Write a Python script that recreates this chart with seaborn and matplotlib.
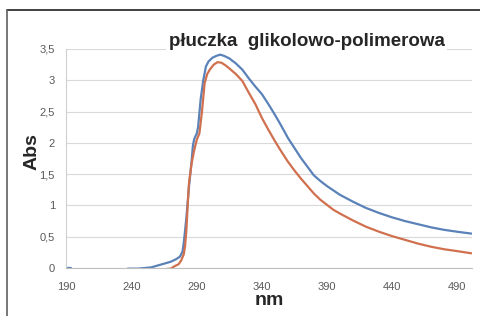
import matplotlib
matplotlib.use("Agg")
import matplotlib.pyplot as plt
from matplotlib.lines import Line2D
import seaborn as sns
import numpy as np
import pandas as pd

# absorbance readings (nm, Abs)
blue_nm = [190, 193,
           237, 245, 250, 255, 260, 265, 270, 274, 277, 279, 280, 282, 284, 286, 287, 288,
           290, 291, 293, 295, 297, 299, 302, 305, 308, 311, 315, 320, 325, 330, 335, 340,
           345, 350, 355, 360, 365, 370, 375, 380, 385, 390, 400, 410, 420, 430, 440, 450,
           460, 470, 480, 490, 501]
blue_abs = [0.0, 0.0,
            -0.01, -0.01, 0.0, 0.01, 0.04, 0.07, 0.10, 0.14, 0.18, 0.26, 0.4, 0.8, 1.3, 1.7, 1.95, 2.06,
            2.15, 2.25, 2.7, 3.0, 3.22, 3.30, 3.36, 3.39, 3.41, 3.39, 3.35, 3.27, 3.17, 3.03, 2.90, 2.78,
            2.62, 2.45, 2.27, 2.08, 1.92, 1.76, 1.62, 1.48, 1.39, 1.31, 1.17, 1.06, 0.96, 0.88, 0.81, 0.75,
            0.70, 0.65, 0.61, 0.58, 0.55]
blue_seg = [0, 0] + [1] * 53

orange_nm = [265, 270, 273, 276, 278, 280, 281, 282, 283, 284, 286, 288, 290, 292, 294, 296, 298,
             300, 303, 306, 309, 312, 315, 320, 325, 330, 335, 340, 345, 350, 355, 360, 365, 370,
             375, 380, 385, 390, 395, 400, 410, 420, 430, 440, 450, 460, 470, 480, 490, 501]
orange_abs = [-0.02, -0.01, 0.03, 0.06, 0.12, 0.22, 0.35, 0.6, 1.0, 1.35, 1.67, 1.88, 2.05, 2.15, 2.5, 2.95, 3.1,
              3.17, 3.25, 3.29, 3.28, 3.24, 3.19, 3.10, 2.99, 2.80, 2.62, 2.40, 2.21, 2.03, 1.86, 1.70, 1.56, 1.43,
              1.31, 1.19, 1.09, 1.01, 0.93, 0.87, 0.76, 0.66, 0.58, 0.51, 0.45, 0.39, 0.34, 0.30, 0.27, 0.235]

x_ticks = [190, 240, 290, 340, 390, 440, 490]
y_ticks = [0, 0.5, 1, 1.5, 2, 2.5, 3, 3.5]
y_labels = ["0", "0,5", "1", "1,5", "2", "2,5", "3", "3,5"]

df = pd.concat([
    pd.DataFrame({"nm": blue_nm, "Abs": blue_abs, "seria": "A", "seg": blue_seg}),
    pd.DataFrame({"nm": orange_nm, "Abs": orange_abs, "seria": "B", "seg": 2}),
], ignore_index=True)

sns.set_style("white")
plt.rcParams["font.family"] = ["Liberation Sans", "DejaVu Sans"]

fig = plt.figure(figsize=(4.81, 3.16), dpi=100)
ax = fig.add_axes([66 / 481, 1 - 268 / 316, (472 - 66) / 481, (268 - 49) / 316])

sns.lineplot(data=df, x="nm", y="Abs", hue="seria", units="seg", estimator=None,
             palette={"A": "#5a82b9", "B": "#d0704e"}, linewidth=1.6, legend=False, ax=ax)

ax.set_xlim(189.5, 501.5)
ax.set_ylim(0, 3.5)
ax.set_xticks(x_ticks)
ax.set_yticks(y_ticks)
ax.set_yticklabels(y_labels)
ax.tick_params(axis="both", length=0, labelsize=8, labelcolor="#595959")
ax.tick_params(axis="y", pad=8)
ax.tick_params(axis="x", pad=10)
ax.grid(axis="y", color="#d9d9d9", linewidth=0.8)
ax.set_axisbelow(True)
for s in ["top", "right"]:
    ax.spines[s].set_visible(False)
ax.spines["left"].set_color("#d0d0d0")
ax.spines["bottom"].set_color("#bfbfbf")
ax.spines["left"].set_linewidth(0.8)
ax.spines["bottom"].set_linewidth(0.8)

ax.set_xlabel("nm", fontsize=14, fontweight="bold", labelpad=0)
ax.set_ylabel("Abs", fontsize=14, fontweight="bold")
ax.yaxis.set_label_coords(-(66 - 41) / 406, 0.53)

fig.text(306.5 / 481, 1 - 46 / 316, "płuczka  glikolowo-polimerowa", ha="center", va="baseline",
         fontsize=13.5, fontweight="bold",
         bbox=dict(facecolor="white", edgecolor="none", pad=2))

# frame lines of the original picture (top and left)
fig.add_artist(Line2D([7.5 / 481, 1], [1 - 9.5 / 316, 1 - 9.5 / 316], color="#202020", linewidth=1.2))
fig.add_artist(Line2D([7.5 / 481, 7.5 / 481], [0, 1 - 9.5 / 316], color="#606060", linewidth=1.2))

fig.savefig("out.png", dpi=100)
